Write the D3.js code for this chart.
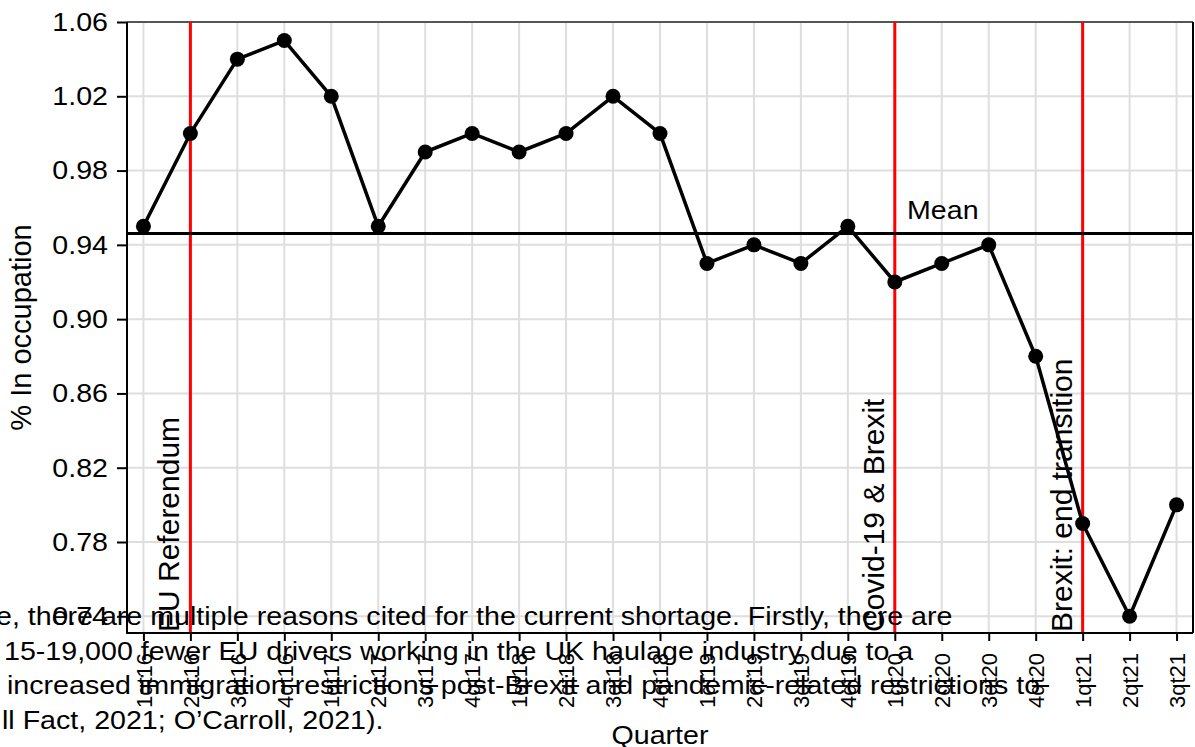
<!DOCTYPE html>
<html>
<head>
<meta charset="utf-8">
<script src="https://cdn.jsdelivr.net/npm/d3@7"></script>
<style>
  body { margin: 0; background: #fff; }
  text { font-family: "Liberation Sans", Arial, sans-serif; fill: #000; }
</style>
</head>
<body>
<script>
var w = 1195, h = 747;

// data
var quarters = ["1qt16","2qt16","3qt16","4qt16","1qt17","2qt17","3qt17","4qt17",
                "1qt18","2qt18","3qt18","4qt18","1qt19","2qt19","3qt19","4qt19",
                "1qt20","2qt20","3qt20","4qt20","1qt21","2qt21","3qt21"];
var values = [0.95,1.00,1.04,1.05,1.02,0.95,0.99,1.00,
              0.99,1.00,1.02,1.00,0.93,0.94,0.93,0.95,
              0.92,0.93,0.94,0.88,0.79,0.74,0.80];
var yTicks = [0.74,0.78,0.82,0.86,0.90,0.94,0.98,1.02,1.06];
var events = ["2qt16","1qt20","1qt21"];
var eventLabels = ["EU Referendum","Covid-19 & Brexit","Brexit: end transition"];
var overflowLines = [
  "e, there are multiple reasons cited for the current shortage. Firstly, there are",
  "15-19,000 fewer EU drivers working in the UK haulage industry due to a",
  "increased immigration restrictions post-Brexit and pandemic-related restrictions to",
  "ll Fact, 2021; O\u2019Carroll, 2021)."
];
var overflowX = [-4, 4, 7, 2];

// plot box (window.top is reserved, so prefixed names)
var pLeft = 127, pRight = 1193, pTop = 22, pBottom = 633;
var sx = 1.1; // horizontal text looks stretched in the source

var svg = d3.select("body").append("svg")
    .attr("width", w)
    .attr("height", h);

var xScale = d3.scalePoint()
    .domain(quarters)
    .range([pLeft, pRight])
    .padding(0.35);

var yScale = d3.scaleLinear()
    .domain([0.731, 1.06])
    .range([pBottom, pTop]);

var data = quarters.map(function(q, i) { return {q: q, v: values[i]}; });
var meanVal = d3.mean(values);

// grid
svg.append("g").selectAll("line")
    .data(quarters).enter().append("line")
    .attr("x1", function(d) { return xScale(d); })
    .attr("x2", function(d) { return xScale(d); })
    .attr("y1", pTop).attr("y2", pBottom)
    .attr("stroke", "#dedede").attr("stroke-width", 2);

svg.append("g").selectAll("line")
    .data(yTicks).enter().append("line")
    .attr("x1", pLeft).attr("x2", pRight)
    .attr("y1", function(d) { return yScale(d); })
    .attr("y2", function(d) { return yScale(d); })
    .attr("stroke", "#dedede").attr("stroke-width", 2);

// frame top/right
svg.append("line").attr("x1", pLeft).attr("x2", pRight).attr("y1", pTop).attr("y2", pTop)
    .attr("stroke", "#555").attr("stroke-width", 2);
svg.append("line").attr("x1", pRight).attr("x2", pRight).attr("y1", pTop).attr("y2", pBottom)
    .attr("stroke", "#000").attr("stroke-width", 2);

// event lines
svg.append("g").selectAll("line")
    .data(events).enter().append("line")
    .attr("x1", function(d) { return xScale(d); })
    .attr("x2", function(d) { return xScale(d); })
    .attr("y1", pTop).attr("y2", pBottom)
    .attr("stroke", "#ff0000").attr("stroke-width", 3);

svg.append("g").selectAll("text")
    .data(events).enter().append("text")
    .attr("transform", function(d) {
        return "translate(" + (xScale(d) - 11) + "," + 632 + ") rotate(-90)";
    })
    .style("font-size", "30px")
    .text(function(d, i) { return eventLabels[i]; });

// mean line
svg.append("line")
    .attr("x1", pLeft).attr("x2", pRight)
    .attr("y1", yScale(meanVal)).attr("y2", yScale(meanVal))
    .attr("stroke", "#000").attr("stroke-width", 3);

svg.append("text")
    .attr("transform", "translate(907,219) scale(" + sx + ",1)")
    .style("font-size", "26px")
    .text("Mean");

// series
var line = d3.line()
    .x(function(d) { return xScale(d.q); })
    .y(function(d) { return yScale(d.v); });

svg.append("path")
    .datum(data)
    .attr("d", line)
    .attr("fill", "none")
    .attr("stroke", "#000")
    .attr("stroke-width", 3.5)
    .attr("stroke-linejoin", "round");

svg.append("g").selectAll("circle")
    .data(data).enter().append("circle")
    .attr("cx", function(d) { return xScale(d.q); })
    .attr("cy", function(d) { return yScale(d.v); })
    .attr("r", 7.5)
    .attr("fill", "#000");

// axes
var yAxis = d3.axisLeft(yScale)
    .tickValues(yTicks)
    .tickFormat(d3.format(".2f"))
    .tickSize(10)
    .tickPadding(9);

var gy = svg.append("g")
    .attr("transform", "translate(" + pLeft + ",0)")
    .call(yAxis);
gy.select(".domain").attr("stroke", "#000").attr("stroke-width", 2)
    .attr("d", "M0," + pTop + "V" + pBottom);
gy.selectAll(".tick line").attr("stroke", "#000").attr("stroke-width", 2);
gy.selectAll(".tick text")
    .attr("x", -19 / sx)
    .attr("transform", "scale(" + sx + ",1)")
    .style("font-size", "26px")
    .style("font-family", "Liberation Sans, Arial, sans-serif");

var xAxis = d3.axisBottom(xScale)
    .tickSize(8)
    .tickSizeOuter(0);

var gx = svg.append("g")
    .attr("transform", "translate(0," + pBottom + ")")
    .call(xAxis);
gx.select(".domain").attr("stroke", "#000").attr("stroke-width", 2)
    .attr("d", "M" + (pLeft - 1) + ",0H" + pRight);
gx.selectAll(".tick line").attr("stroke", "#000").attr("stroke-width", 2);
gx.selectAll(".tick text")
    .attr("transform", "rotate(-90)")
    .attr("text-anchor", "end")
    .attr("x", -20)
    .attr("y", 0)
    .attr("dy", "0.35em")
    .style("font-size", "22px")
    .style("font-family", "Liberation Sans, Arial, sans-serif");

// axis titles
svg.append("text")
    .attr("transform", "translate(31," + ((pTop + pBottom) / 2) + ") rotate(-90)")
    .attr("text-anchor", "middle")
    .style("font-size", "29px")
    .text("% In occupation");

svg.append("text")
    .attr("transform", "translate(" + ((pLeft + pRight) / 2) + ",744) scale(" + sx + ",1)")
    .attr("text-anchor", "middle")
    .style("font-size", "26px")
    .text("Quarter");

// stray paragraph text laid over the figure
svg.append("g").selectAll("text")
    .data(overflowLines).enter().append("text")
    .attr("transform", function(d, i) {
        return "translate(" + overflowX[i] + "," + (625 + i * 34.6) + ") scale(" + sx + ",1)";
    })
    .style("font-size", "26px")
    .text(function(d) { return d; });
</script>
</body>
</html>
